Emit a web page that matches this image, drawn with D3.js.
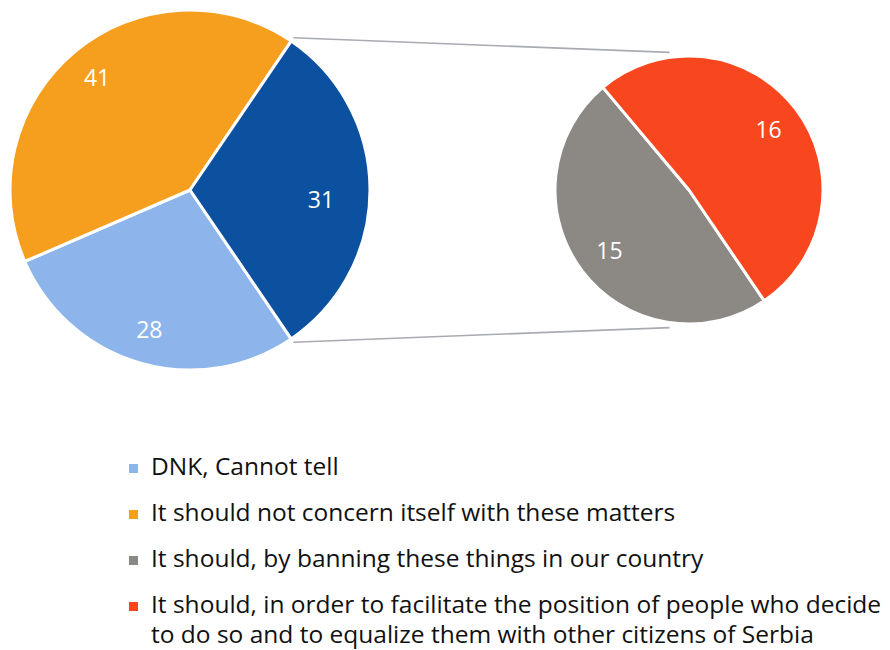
<!DOCTYPE html>
<html>
<head>
<meta charset="utf-8">
<script src="https://cdn.jsdelivr.net/npm/d3@7/dist/d3.min.js"></script>
<style>
  html, body { margin: 0; padding: 0; background: #ffffff; }
  svg { display: block; }
  text { font-family: "Open Sans", Lato, sans-serif; }
</style>
</head>
<body>
<div id="chart"></div>
<script>
// Survey answers: the first two go to the main pie, the rest are grouped
// into an aggregate slice that is broken out in the secondary pie.
const categories = [
  "DNK, Cannot tell",
  "It should not concern itself with these matters",
  "It should, by banning these things in our country",
  "It should, in order to facilitate the position of people who decide to do so and to equalize them with other citizens of Serbia"
];
const values = [28, 41, 15, 16];
const colors = ["#8DB5EB", "#F69F1F", "#8C8985", "#F8461F"];
const mainCount = 2;               // categories shown directly in the main pie
const otherColor = "#0C51A0";      // aggregate slice
const legendLines = [
  ["DNK, Cannot tell"],
  ["It should not concern itself with these matters"],
  ["It should, by banning these things in our country"],
  ["It should, in order to facilitate the position of people who decide",
   "to do so and to equalize them with other citizens of Serbia"]
];

const width = 890, height = 650;
const svg = d3.select("#chart").append("svg")
  .attr("width", width).attr("height", height);

const total = d3.sum(values);
const secondaryItems = values.slice(mainCount).map((v, i) => ({
  value: v, color: colors[mainCount + i], idx: mainCount + i
}));
const otherValue = d3.sum(secondaryItems, d => d.value);
const mainItems = values.slice(0, mainCount).map((v, i) => ({
  value: v, color: colors[i], idx: i
})).concat([{ value: otherValue, color: otherColor, idx: -1 }]);

// Rotate so the aggregate slice is centred on 3 o'clock.
const startAngle = Math.PI / 2 + (otherValue / total) * Math.PI;

const mainPie = { cx: 190, cy: 190, r: 180 };
const subPie  = { cx: 689, cy: 190, r: 134 };

const pieLayout = d3.pie().sort(null).value(d => d.value)
  .startAngle(startAngle).endAngle(startAngle + 2 * Math.PI);

function polar(p, ang, rr) {
  return [p.cx + rr * Math.sin(ang), p.cy - rr * Math.cos(ang)];
}

// Connector lines between the aggregate slice and the secondary pie.
const mainArcs = pieLayout(mainItems);
const otherArc = mainArcs[mainArcs.length - 1];
const connA = [polar(mainPie, otherArc.startAngle, mainPie.r + 4), polar(subPie, -0.14, subPie.r + 5)];
const connB = [polar(mainPie, otherArc.endAngle, mainPie.r + 4), polar(subPie, Math.PI + 0.14, subPie.r + 5)];
svg.append("g").selectAll("line").data([connA, connB]).join("line")
  .attr("x1", d => d[0][0]).attr("y1", d => d[0][1])
  .attr("x2", d => d[1][0]).attr("y2", d => d[1][1])
  .attr("stroke", "#A8ABB0").attr("stroke-width", 1.6);

function drawPie(p, arcs, labelPos) {
  const g = svg.append("g").attr("transform", `translate(${p.cx},${p.cy})`);
  const arc = d3.arc().innerRadius(0).outerRadius(p.r);
  g.selectAll("path").data(arcs).join("path")
    .attr("d", arc)
    .attr("fill", d => d.data.color)
    .attr("stroke", "#ffffff")
    .attr("stroke-width", 3)
    .attr("stroke-linejoin", "round");
  g.selectAll("text").data(arcs).join("text")
    .attr("transform", d => {
      const [ratio, shift] = labelPos(d);
      const a = (d.startAngle + d.endAngle) / 2 + shift;
      const rr = p.r * ratio;
      return `translate(${rr * Math.sin(a)},${-rr * Math.cos(a)})`;
    })
    .attr("text-anchor", "middle")
    .attr("dy", "0.36em")
    .attr("fill", "#ffffff")
    .attr("font-size", 23)
    .text(d => d.data.value);
}

drawPie(mainPie, mainArcs, d => d.data.idx === -1 ? [0.73, 0.075] : [0.81, 0]);
drawPie(subPie, pieLayout(secondaryItems), () => [0.745, 0]);

// Legend
const legend = svg.append("g").attr("transform", "translate(129,0)");
const rowBase = [475, 521, 567, 613];
const row = legend.selectAll("g").data(categories).join("g")
  .attr("transform", (d, i) => `translate(0,${rowBase[i]})`);
row.append("rect")
  .attr("x", 0).attr("y", -11).attr("width", 9).attr("height", 9)
  .attr("fill", (d, i) => colors[i]);
row.append("text")
  .attr("font-size", 24.5)
  .attr("fill", "#111111")
  .selectAll("tspan").data((d, i) => legendLines[i]).join("tspan")
  .attr("x", 22)
  .attr("dy", (d, j) => j === 0 ? 0 : 30)
  .text(d => d);
</script>
</body>
</html>
